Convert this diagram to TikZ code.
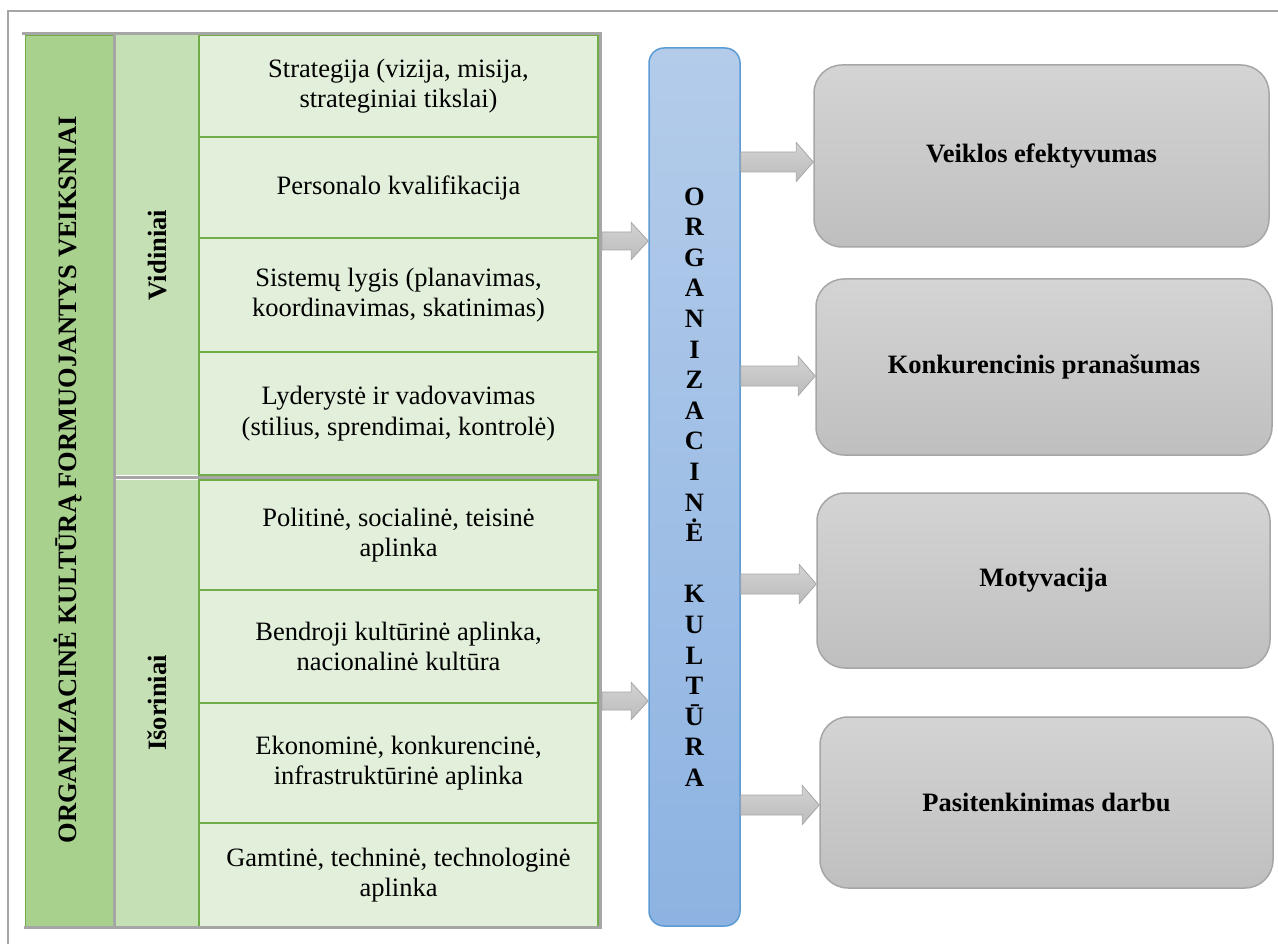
\documentclass[tikz,border=0pt]{standalone}
\usepackage{fontspec}
\setmainfont{Liberation Serif}
\usetikzlibrary{calc}
\definecolor{leafdark}{HTML}{A9D18E}
\definecolor{leafmid}{HTML}{C5E0B4}
\definecolor{leaflight}{HTML}{E2EFDA}
\definecolor{leafline}{HTML}{70AD47}
\definecolor{rulegrey}{HTML}{A6A6A6}
\definecolor{bluetop}{HTML}{B4CCEA}
\definecolor{bluebot}{HTML}{8DB3E2}
\definecolor{blueline}{HTML}{5B9BD5}
\definecolor{greytop}{HTML}{D4D4D4}
\definecolor{greybot}{HTML}{BFBFBF}
\definecolor{arrtop}{HTML}{D2D2D2}
\definecolor{arrbot}{HTML}{BCBCBC}

% block arrow from #1 to the x of #2, at the height of #1
\newcommand\blockarrow[4]{%
  \path[arrowshape] let \p1=(#1), \p2=(#2) in
    (\x1,\y1+#3) -- (\x2-17pt,\y1+#3) -- (\x2-17pt,\y1+#4) -- (\x2,\y1)
    -- (\x2-17pt,\y1-#4) -- (\x2-17pt,\y1-#3) -- (\x1,\y1-#3) -- cycle;}

\begin{document}
\begin{tikzpicture}[x=1pt,y=-1pt,
  txt/.style={font=\fontsize{26.5}{30.5}\selectfont},
  boldtxt/.style={font=\fontsize{26.5}{30.6}\selectfont\bfseries},
  cell/.style={txt, draw=leafline, line width=2pt, fill=leaflight,
    minimum width=399pt, anchor=north west, align=center,
    inner sep=0pt, outer sep=0pt},
  band/.style={fill=leafmid, minimum width=83pt, anchor=north west,
    inner sep=0pt, outer sep=0pt},
  ruleline/.style={draw=rulegrey, line width=3pt},
  frameline/.style={draw=rulegrey, line width=2.5pt},
  culture/.style={boldtxt, rounded corners=15pt, top color=bluetop,
    bottom color=bluebot, draw=blueline, line width=1.5pt, align=center,
    minimum width=91pt, minimum height=878pt, inner sep=0pt},
  result/.style={boldtxt, rounded corners=28pt, top color=greytop,
    bottom color=greybot, draw=rulegrey, line width=1.5pt,
    inner sep=0pt},
  arrowshape/.style={top color=arrtop, bottom color=arrbot,
    draw=rulegrey, line width=0.8pt}
]
\useasboundingbox (0,0) rectangle (1278,944);

% outer frame
\draw[frameline] (7,11) -- (1278,11);
\draw[frameline] (8,10) -- (8,944);

% factor columns
\node[fill=leafdark, draw=leafline, line width=1pt, minimum width=88pt,
  minimum height=891pt, anchor=north west, inner sep=0pt] (factors) at (25,35) {};
\node[boldtxt, rotate=90] (factorstxt) at (68,480)
  {ORGANIZACINĖ KULTŪRĄ FORMUOJANTYS VEIKSNIAI};

\node[band, minimum height=440pt] (inner) at (116,35) {};
\node[boldtxt, rotate=90] (innertxt) at (inner.center) {Vidiniai};
\node[band, minimum height=446pt] (outer) at (116,480) {};
\node[boldtxt, rotate=90] (outertxt) at (outer.center) {Išoriniai};

% internal factors
\node[cell, minimum height=102pt] (c1) at (199,35)
  {Strategija (vizija, misija,\\strateginiai tikslai)};
\node[cell, minimum height=101pt] (c2) at (199,137)
  {Personalo kvalifikacija};
\node[cell, minimum height=114pt] (c3) at (199,238)
  {Sistemų lygis (planavimas,\\koordinavimas, skatinimas)};
\node[cell, minimum height=123pt] (c4) at (199,352)
  {Lyderystė ir vadovavimas\\(stilius, sprendimai, kontrolė)};

% external factors
\node[cell, minimum height=110pt] (c5) at (199,480)
  {Politinė, socialinė, teisinė\\aplinka};
\node[cell, minimum height=113pt] (c6) at (199,590)
  {Bendroji kultūrinė aplinka,\\nacionalinė kultūra};
\node[cell, minimum height=120pt] (c7) at (199,703)
  {Ekonominė, konkurencinė,\\infrastruktūrinė aplinka};
\node[cell, minimum height=104pt] (c8) at (199,823)
  {Gamtinė, techninė, technologinė\\aplinka};

% table rules
\draw[ruleline] (22,33.5) -- (602,33.5);
\draw[ruleline] (600.5,33) -- (600.5,929);
\draw[ruleline] (24,927.5) -- (602,927.5);
\draw[ruleline] (114.5,35) -- (114.5,926);
\draw[ruleline] (116,477.5) -- (600,477.5);

% organisational culture
\node[culture] (oc) at (694.5,487)
  {O\\R\\G\\A\\N\\I\\Z\\A\\C\\I\\N\\Ė\\[30.6pt]K\\U\\L\\T\\Ū\\R\\A};

% outcomes
\node[result, minimum width=455pt, minimum height=182pt] (b1) at (1041.5,156)
  {Veiklos efektyvumas};
\node[result, minimum width=456pt, minimum height=176pt] (b2) at (1044,367)
  {Konkurencinis pranašumas};
\node[result, minimum width=453pt, minimum height=175pt] (b3) at (1043.5,580.5)
  {Motyvacija};
\node[result, minimum width=453pt, minimum height=171pt] (b4) at (1046.5,802.5)
  {Pasitenkinimas darbu};

% arrows into the culture column
\coordinate (in1) at (602,241);
\coordinate (in2) at (602,701);
\blockarrow{in1}{oc.west}{9pt}{18.5pt}
\blockarrow{in2}{oc.west}{9pt}{18.5pt}

% arrows towards the outcomes
\coordinate (o1) at (oc.east |- 0,162);
\coordinate (o2) at (oc.east |- 0,376);
\coordinate (o3) at (oc.east |- 0,584);
\coordinate (o4) at (oc.east |- 0,805);
\blockarrow{o1}{b1.west}{10pt}{19.5pt}
\blockarrow{o2}{b2.west}{10pt}{19.5pt}
\blockarrow{o3}{b3.west}{10pt}{19.5pt}
\blockarrow{o4}{b4.west}{10pt}{19.5pt}
\end{tikzpicture}
\end{document}
